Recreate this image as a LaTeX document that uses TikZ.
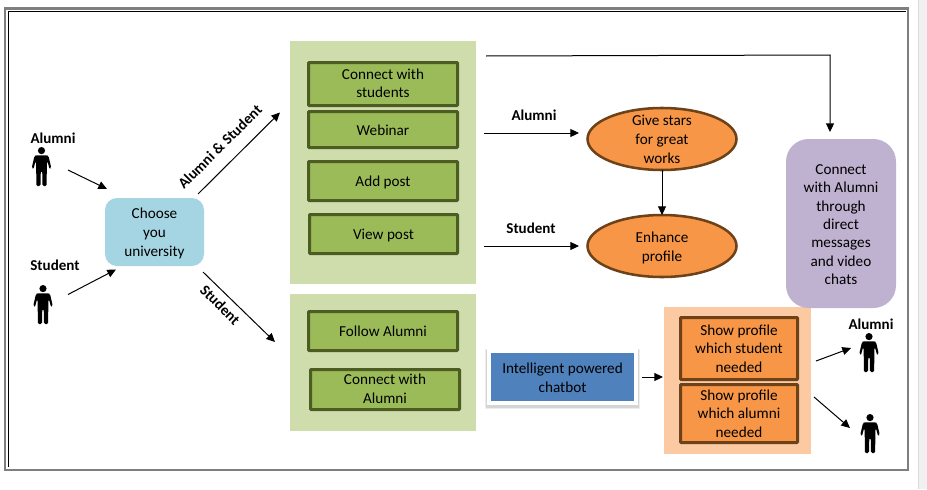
\documentclass[tikz,border=0pt]{standalone}
\usepackage{fontspec}
\setmainfont{Carlito}
\usetikzlibrary{arrows.meta,shapes.geometric}
\definecolor{framegray}{HTML}{7F7F7F}
\definecolor{bandgray}{HTML}{F0F0F0}
\definecolor{bandline}{HTML}{DCDCDC}
\definecolor{panelgreen}{HTML}{CFDDAC}
\definecolor{boxgreen}{HTML}{9BBB59}
\definecolor{edgegreen}{HTML}{4C5C22}
\definecolor{panelorange}{HTML}{FBCAA2}
\definecolor{boxorange}{HTML}{F79646}
\definecolor{edgeorange}{HTML}{6E4218}
\definecolor{chooseblue}{HTML}{A5D5E2}
\definecolor{botblue}{HTML}{4F81BD}
\definecolor{purplebox}{HTML}{BFB1D0}
\tikzset{
  boxsize/.style 2 args={minimum width=#1*.75pt,minimum height=#2*.75pt},
  lift/.style={execute at begin node={\rule{0pt}{#1}}},
  base/.style={inner sep=0pt,outer sep=0pt,align=center,font=\fontsize{11.4}{14}\selectfont,
    lift=11.5pt,execute at end node={\rule[-3pt]{0pt}{3pt}}},
  panel/.style={base,rectangle},
  greenbox/.style={base,rectangle,draw=edgegreen,fill=boxgreen,line width=2.25pt,rounded corners=.5pt},
  orangebox/.style={base,rectangle,draw=edgeorange,fill=boxorange,line width=2.25pt,rounded corners=.5pt},
  oval/.style={base,ellipse,draw=edgeorange,fill=boxorange,line width=1.9pt,inner ysep=-12pt},
  lbl/.style={base,font=\fontsize{11.3}{14}\selectfont\bfseries},
  conn/.style={-{Triangle[length=6.5pt,width=6pt]},line width=.75pt,black},
  glow/.style={preaction={draw=black,draw opacity=#1,line width=6pt,transform canvas={yshift=-1.2pt}}},
  person/.pic={
    \fill (0,3.6) circle[radius=3.6];
    \fill[rounded corners=1pt] (-5.5,8.3) -- (5.5,8.3) -- (7,9) -- (9.7,20.5) -- (8.2,22.5) -- (6,14.5)
      -- (5.3,14.5) -- (5.2,39) -- (1,39) -- (.7,24) -- (-.7,24) -- (-1,39) -- (-5.2,39) -- (-5.3,14.5)
      -- (-6,14.5) -- (-8.2,22.5) -- (-9.7,20.5) -- (-7,9) -- cycle;
  }
}
\begin{document}
\begin{tikzpicture}[x=.75pt,y=-.75pt]
\useasboundingbox (0,0) rectangle (927,489);
% window chrome
\fill[bandgray] (918,0) rectangle (927,489);
\draw[bandline,line width=.75pt] (918.5,0) -- (918.5,489);
\draw[framegray,line width=2.2pt] (5,8.7) rectangle (908,470);
\draw[black,line width=.9pt] (8.7,467) -- (8.7,11.5) -- (906,11.5);

% panels
\node[panel,fill=panelgreen,boxsize={186}{243}] (panelA) at (383,162.5) {};
\node[panel,fill=panelgreen,boxsize={186}{137}] (panelB) at (383,362.5) {};
\node[panel,fill=panelorange,boxsize={147}{147}] (panelC) at (737.5,380.5) {};

% green boxes
\node[greenbox,boxsize={149}{43},lift=23.9pt] (connstud) at (383,84) {Connect with\\students};
\node[greenbox,boxsize={149}{36}] (webinar) at (383,129.5) {Webinar};
\node[greenbox,boxsize={149}{39}] (addpost) at (383,181) {Add post};
\node[greenbox,boxsize={148}{39}] (viewpost) at (383.5,234) {View post};
\node[greenbox,boxsize={149}{39}] (follow) at (383,331) {Follow Alumni};
\node[greenbox,boxsize={149}{40},lift=23.9pt] (connalum) at (385,389.5) {Connect with\\Alumni};

% orange boxes
\node[orangebox,boxsize={117}{62},lift=39pt] (showstud) at (739,348.5) {Show profile\\which student\\needed};
\node[orangebox,boxsize={117}{58},lift=39pt] (showalum) at (739,413.5) {Show profile\\which alumni\\needed};

% ellipses
\node[oval,boxsize={149}{62},lift=39pt] (give) at (662,139) {Give stars\\for great\\works};
\node[oval,boxsize={149}{62},lift=26.2pt] (enhance) at (662,246) {Enhance\\profile};

% other boxes
\node[base,rectangle,fill=chooseblue,rounded corners=9pt,boxsize={99}{68},lift=39pt] (choose) at (154.5,232) {Choose\\you\\university};
\node[base,rectangle,fill=purplebox,rounded corners=17pt,boxsize={110}{169},font=\fontsize{11.4}{13.75}\selectfont,lift=94.7pt] (direct) at (841,223.5)
  {Connect\\with Alumni\\through\\direct\\messages\\and video\\chats};
\node[base,rectangle,fill=botblue,draw=white,line width=3pt,boxsize={147}{52},lift=26.2pt,glow=.07,
  preaction={draw=black,draw opacity=.1,line width=4.6pt,transform canvas={yshift=-1.2pt}}] (chatbot) at (562.5,377)
  {Intelligent powered\\chatbot};

% people
\pic at (41.5,147) {person};
\pic at (43,285) {person};
\pic at (869,333) {person};
\pic at (870,414) {person};

% labels
\node[lbl] (lalumni) at (53,138) {Alumni};
\node[lbl] (lstudent) at (55,265) {Student};
\node[lbl] (ralumni) at (871,324) {Alumni};
\node[lbl] (malumni) at (534,115) {Alumni};
\node[lbl] (mstudent) at (531,228) {Student};
\node[lbl,rotate=45] (both) at (219.5,146.5) {Alumni \& Student};
\node[lbl,rotate=-45] (dstudent) at (220.5,304.5) {Student};

% connector ends
\coordinate (a1) at (68,170);   \coordinate (a2) at (107,189);
\coordinate (b1) at (68,294.5); \coordinate (b2) at (116,269.5);
\coordinate (c1) at (198,194);  \coordinate (c2) at (280,112.5);
\coordinate (d1) at (203,272);  \coordinate (d2) at (275,342);
\coordinate (e1) at (486,56);   \coordinate (e2) at (830,55);  \coordinate (e3) at (830,132);
\coordinate (f1) at (484,133);  \coordinate (f2) at (579,133);
\coordinate (g1) at (484,246);  \coordinate (g2) at (579,246);
\coordinate (h1) at (642,377);  \coordinate (h2) at (663,377);
\coordinate (i1) at (816,361);  \coordinate (i2) at (851,348);
\coordinate (j1) at (814,397);  \coordinate (j2) at (850,428);

% connectors
\draw[conn] (a1) -- (a2);
\draw[conn] (b1) -- (b2);
\draw[conn] (c1) -- (c2);
\draw[conn] (d1) -- (d2);
\draw[conn] (e1) -- (e2) -- (e3);
\draw[conn] (f1) -- (f2);
\draw[conn] (g1) -- (g2);
\draw[conn] (give) -- (enhance);
\draw[conn] (h1) -- (h2);
\draw[conn] (i1) -- (i2);
\draw[conn] (j1) -- (j2);
\end{tikzpicture}
\end{document}
